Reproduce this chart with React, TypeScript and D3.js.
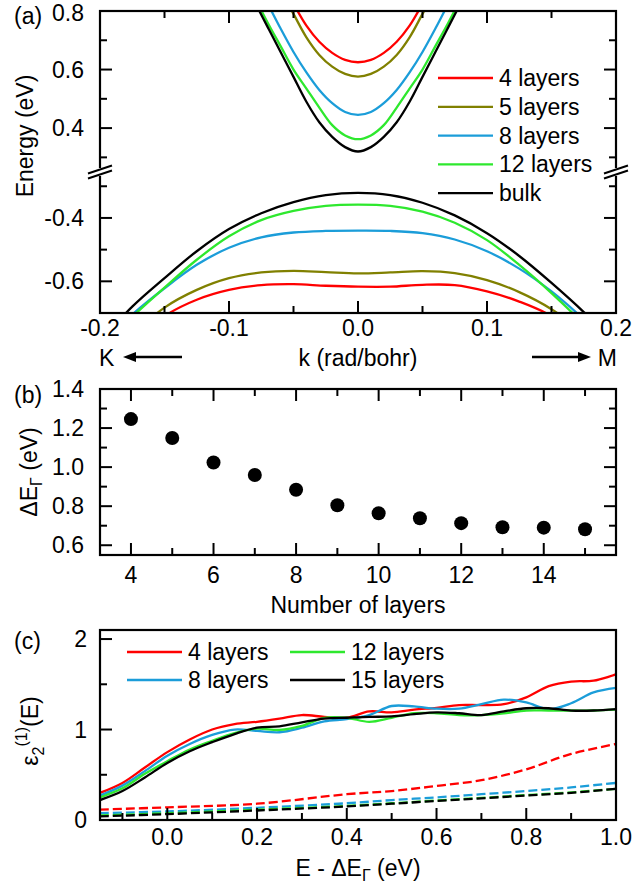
import React from "react"
import * as d3 from "d3"

const FONT = "'Liberation Sans', Arial, Helvetica, sans-serif"
const FS = 23

// ---------- panel (a): band structure ----------
const cbK = [-0.08, -0.07, -0.06, -0.05, -0.04, -0.03, -0.02, -0.01, 0, 0.01, 0.02, 0.03, 0.04, 0.05, 0.06, 0.07, 0.08]
const cb4 = [1.09, 1.0, 0.91, 0.825, 0.75, 0.695, 0.657, 0.633, 0.625, 0.633, 0.657, 0.695, 0.75, 0.825, 0.91, 1.0, 1.09]
const cb5 = [1.05, 0.96, 0.87, 0.79, 0.71, 0.65, 0.61, 0.585, 0.576, 0.585, 0.61, 0.65, 0.71, 0.79, 0.87, 0.96, 1.05]
const cb8 = [0.91, 0.825, 0.74, 0.66, 0.59, 0.53, 0.485, 0.455, 0.445, 0.455, 0.485, 0.53, 0.59, 0.66, 0.74, 0.825, 0.91]
const cb12 = [0.845, 0.76, 0.68, 0.6, 0.535, 0.47, 0.41, 0.375, 0.362, 0.375, 0.41, 0.47, 0.535, 0.6, 0.68, 0.76, 0.845]
const cbBulk = [0.83, 0.745, 0.66, 0.575, 0.49, 0.42, 0.37, 0.335, 0.32, 0.335, 0.37, 0.42, 0.49, 0.575, 0.66, 0.745, 0.83]

const vbK = [-0.2, -0.175, -0.15, -0.125, -0.1, -0.075, -0.05, -0.025, 0, 0.025, 0.05, 0.075, 0.1, 0.125, 0.15, 0.175, 0.2]
const vb4 = [-0.92, -0.8, -0.71, -0.658, -0.627, -0.612, -0.609, -0.614, -0.617, -0.617, -0.611, -0.612, -0.632, -0.664, -0.71, -0.79, -0.9]
const vb5 = [-0.88, -0.77, -0.683, -0.627, -0.59, -0.572, -0.567, -0.571, -0.575, -0.572, -0.568, -0.574, -0.596, -0.634, -0.688, -0.765, -0.86]
const vb8 = [-0.8, -0.705, -0.622, -0.548, -0.494, -0.461, -0.446, -0.441, -0.44, -0.441, -0.448, -0.468, -0.505, -0.56, -0.632, -0.72, -0.82]
const vb12 = [-0.81, -0.712, -0.62, -0.532, -0.458, -0.407, -0.378, -0.362, -0.358, -0.362, -0.38, -0.415, -0.47, -0.548, -0.637, -0.735, -0.84]
const vbBulk = [-0.79, -0.68, -0.59, -0.505, -0.435, -0.385, -0.35, -0.328, -0.321, -0.328, -0.352, -0.392, -0.448, -0.52, -0.605, -0.697, -0.8]

const bandNames = ["4 layers", "5 layers", "8 layers", "12 layers", "bulk"]
const bandColors = ["#ff0000", "#808000", "#1b9dd9", "#2ee82e", "#000000"]
const cbSeries = [cb4, cb5, cb8, cb12, cbBulk]
const vbSeries = [vb4, vb5, vb8, vb12, vbBulk]

const aXMajor = [-0.2, -0.1, 0, 0.1, 0.2]
const aXMinor = [-0.15, -0.05, 0.05, 0.15]
const aXLabels = ["-0.2", "-0.1", "0.0", "0.1", "0.2"]
const aYUpMajor = [0.4, 0.6, 0.8]
const aYUpMinor = [0.3, 0.5, 0.7]
const aYLoMajor = [-0.6, -0.4]
const aYLoMinor = [-0.5, -0.3]

// ---------- panel (b): gap vs layers ----------
const layers = [4, 5, 6, 7, 8, 9, 10, 11, 12, 13, 14, 15]
const gapGamma = [1.246, 1.149, 1.024, 0.96, 0.884, 0.805, 0.764, 0.738, 0.713, 0.692, 0.69, 0.682]
const bXMajor = [4, 6, 8, 10, 12, 14]
const bXMinor = [5, 7, 9, 11, 13, 15]
const bYMajor = [0.6, 0.8, 1.0, 1.2, 1.4]
const bYMinor = [0.7, 0.9, 1.1, 1.3]

// ---------- panel (c): epsilon2 ----------
const eSolid = [-0.15, -0.1, -0.05, 0, 0.05, 0.1, 0.15, 0.2, 0.25, 0.3, 0.35, 0.4, 0.45, 0.5, 0.55, 0.6, 0.65, 0.7, 0.75, 0.8, 0.85, 0.9, 0.95, 1.0]
const eps4 = [0.3, 0.41, 0.58, 0.75, 0.89, 1.0, 1.06, 1.085, 1.12, 1.16, 1.14, 1.13, 1.2, 1.19, 1.22, 1.24, 1.27, 1.27, 1.28, 1.355, 1.48, 1.53, 1.54, 1.61]
const eps8 = [0.27, 0.38, 0.54, 0.71, 0.84, 0.94, 1.0, 0.985, 0.97, 1.02, 1.09, 1.115, 1.16, 1.26, 1.255, 1.23, 1.23, 1.28, 1.33, 1.3, 1.225, 1.29, 1.41, 1.46]
const eps12 = [0.25, 0.35, 0.51, 0.65, 0.78, 0.875, 0.96, 1.01, 0.995, 1.04, 1.13, 1.13, 1.085, 1.13, 1.18, 1.18, 1.16, 1.16, 1.18, 1.21, 1.21, 1.21, 1.21, 1.22]
const eps15 = [0.22, 0.32, 0.47, 0.63, 0.76, 0.86, 0.95, 1.02, 1.035, 1.08, 1.12, 1.13, 1.14, 1.145, 1.17, 1.19, 1.18, 1.16, 1.2, 1.235, 1.235, 1.21, 1.21, 1.225]

const eDash = [-0.15, 0, 0.2, 0.4, 0.5, 0.6, 0.7, 0.8, 0.9, 1.0]
const epsD4 = [0.115, 0.14, 0.18, 0.285, 0.32, 0.376, 0.44, 0.56, 0.73, 0.84]
const epsD8 = [0.075, 0.095, 0.135, 0.185, 0.22, 0.25, 0.285, 0.32, 0.36, 0.41]
const epsD12 = [0.05, 0.075, 0.115, 0.155, 0.185, 0.215, 0.245, 0.275, 0.305, 0.345]
const epsD15 = [0.04, 0.065, 0.105, 0.15, 0.18, 0.21, 0.24, 0.27, 0.3, 0.345]

const cNames = ["4 layers", "8 layers", "12 layers", "15 layers"]
const cColors = ["#ff0000", "#1b9dd9", "#2ee82e", "#000000"]
const cSolid = [eps4, eps8, eps12, eps15]
const cDash = [epsD4, epsD8, epsD12, epsD15]
const cXMajor = [0, 0.2, 0.4, 0.6, 0.8, 1.0]
const cXMinor = [-0.1, 0.1, 0.3, 0.5, 0.7, 0.9]
const cYMajor = [0, 1, 2]
const cYMinor = [0.5, 1.5]

const L = 100
const R = 616
const MAJ = 12
const MIN = 7

const txt = { fontFamily: FONT, fontSize: FS, fill: "#000" } as const

export default function App() {
  // scales
  const ax = d3.scaleLinear().domain([-0.2, 0.2]).range([L, R])
  const ayUp = d3.scaleLinear().domain([0.25, 0.8]).range([172, 11])
  const ayLo = d3.scaleLinear().domain([-0.7, -0.255]).range([313, 172])
  const aTop = 11, aBreak = 172, aBot = 313

  const bx = d3.scaleLinear().domain([3.25, 15.75]).range([L, R])
  const by = d3.scaleLinear().domain([0.55, 1.4]).range([555, 389])
  const bTop = 389, bBot = 555

  const cx = d3.scaleLinear().domain([-0.15, 1.0]).range([L, R])
  const cy = d3.scaleLinear().domain([0, 2.1]).range([820, 630])
  const cTop = 630, cBot = 820

  const curve = d3.curveCatmullRom.alpha(0.5)
  const lineOf = (xs: number[], ys: number[], sx: any, sy: any) =>
    d3.line<number>().x((_, i) => sx(xs[i])).y((v) => sy(v)).curve(curve)(ys) || ""

  const tk = (key: string, x1: number, y1: number, x2: number, y2: number) => (
    <line key={key} x1={x1} y1={y1} x2={x2} y2={y2} stroke="#000" strokeWidth={2} />
  )

  const breakMark = (x0: number, k: string) => (
    <g key={k}>
      <rect x={x0 - 3} y={aBreak - 4} width={6} height={8} fill="#fff" />
      <line x1={x0 - 12} y1={aBreak + 1.5} x2={x0 + 12} y2={aBreak - 6.5} stroke="#000" strokeWidth={2} />
      <line x1={x0 - 12} y1={aBreak + 6.5} x2={x0 + 12} y2={aBreak - 1.5} stroke="#000" strokeWidth={2} />
    </g>
  )

  return (
    <div style={{ position: "absolute", left: 0, top: 0 }}>
      <svg width={633} height={892} style={{ display: "block", background: "#fff" }}>
        <defs>
          <clipPath id="clipUp"><rect x={L} y={aTop} width={R - L} height={aBreak - aTop} /></clipPath>
          <clipPath id="clipLo"><rect x={L} y={aBreak} width={R - L} height={aBot - aBreak} /></clipPath>
          <clipPath id="clipC"><rect x={L} y={cTop} width={R - L} height={cBot - cTop} /></clipPath>
        </defs>

        {/* ===== panel (a) ===== */}
        <g clipPath="url(#clipUp)">
          {cbSeries.map((s, i) => (
            <path key={"cb" + i} d={lineOf(cbK, s, ax, ayUp)} fill="none" stroke={bandColors[i]} strokeWidth={2.3} />
          ))}
        </g>
        <g clipPath="url(#clipLo)">
          {vbSeries.map((s, i) => (
            <path key={"vb" + i} d={lineOf(vbK, s, ax, ayLo)} fill="none" stroke={bandColors[i]} strokeWidth={2.3} />
          ))}
        </g>
        <rect x={L} y={aTop} width={R - L} height={aBot - aTop} fill="none" stroke="#000" strokeWidth={2.2} />
        {aXMajor.map((v, i) => [
          tk("axb" + i, ax(v), aBot, ax(v), aBot - MAJ),
          tk("axt" + i, ax(v), aTop, ax(v), aTop + MAJ),
        ])}
        {aXMinor.map((v, i) => [
          tk("axbm" + i, ax(v), aBot, ax(v), aBot - MIN),
          tk("axtm" + i, ax(v), aTop, ax(v), aTop + MIN),
        ])}
        {aYUpMajor.map((v, i) => [
          tk("auL" + i, L, ayUp(v), L + MAJ, ayUp(v)),
          tk("auR" + i, R, ayUp(v), R - MAJ, ayUp(v)),
        ])}
        {aYUpMinor.map((v, i) => [
          tk("aumL" + i, L, ayUp(v), L + MIN, ayUp(v)),
          tk("aumR" + i, R, ayUp(v), R - MIN, ayUp(v)),
        ])}
        {aYLoMajor.map((v, i) => [
          tk("alL" + i, L, ayLo(v), L + MAJ, ayLo(v)),
          tk("alR" + i, R, ayLo(v), R - MAJ, ayLo(v)),
        ])}
        {aYLoMinor.map((v, i) => [
          tk("almL" + i, L, ayLo(v), L + MIN, ayLo(v)),
          tk("almR" + i, R, ayLo(v), R - MIN, ayLo(v)),
        ])}
        {breakMark(L, "bl")}
        {breakMark(R, "br")}
        {aXMajor.map((v, i) => (
          <text key={"axl" + i} x={ax(v)} y={336} textAnchor="middle" {...txt}>{aXLabels[i]}</text>
        ))}
        {aYUpMajor.map((v, i) => (
          <text key={"ayu" + i} x={84} y={Math.max(ayUp(v) + 8, 21)} textAnchor="end" {...txt}>{v.toFixed(1)}</text>
        ))}
        {aYLoMajor.map((v, i) => (
          <text key={"ayl" + i} x={84} y={ayLo(v) + 8} textAnchor="end" {...txt}>{v.toFixed(1)}</text>
        ))}
        <text x={14} y={24} {...txt}>(a)</text>
        <text transform="translate(33,136) rotate(-90)" textAnchor="middle" {...txt}>Energy (eV)</text>
        {/* legend (a) */}
        {bandNames.map((n, i) => (
          <g key={"lga" + i}>
            <line x1={438} x2={493} y1={78 + i * 28.8} y2={78 + i * 28.8} stroke={bandColors[i]} strokeWidth={2.3} />
            <text x={499} y={78 + i * 28.8 + 8} {...txt}>{n}</text>
          </g>
        ))}
        {/* K / M direction labels */}
        <text x={99} y={366} {...txt}>K</text>
        <line x1={182} y1={357} x2={132} y2={357} stroke="#000" strokeWidth={2.5} />
        <polygon points="123,357 136,352 136,362" fill="#000" />
        <text x={358} y={366} textAnchor="middle" {...txt}>k (rad/bohr)</text>
        <line x1={532} y1={357} x2={582} y2={357} stroke="#000" strokeWidth={2.5} />
        <polygon points="591,357 578,352 578,362" fill="#000" />
        <text x={617} y={366} textAnchor="end" {...txt}>M</text>

        {/* ===== panel (b) ===== */}
        <rect x={L} y={bTop} width={R - L} height={bBot - bTop} fill="none" stroke="#000" strokeWidth={2.2} />
        {bXMajor.map((v, i) => [
          tk("bxb" + i, bx(v), bBot, bx(v), bBot - MAJ),
          tk("bxt" + i, bx(v), bTop, bx(v), bTop + MAJ),
        ])}
        {bXMinor.map((v, i) => [
          tk("bxbm" + i, bx(v), bBot, bx(v), bBot - MIN),
          tk("bxtm" + i, bx(v), bTop, bx(v), bTop + MIN),
        ])}
        {bYMajor.map((v, i) => [
          tk("byL" + i, L, by(v), L + MAJ, by(v)),
          tk("byR" + i, R, by(v), R - MAJ, by(v)),
        ])}
        {bYMinor.map((v, i) => [
          tk("bymL" + i, L, by(v), L + MIN, by(v)),
          tk("bymR" + i, R, by(v), R - MIN, by(v)),
        ])}
        {layers.map((n, i) => (
          <circle key={"dot" + i} cx={bx(n)} cy={by(gapGamma[i])} r={7} fill="#000" />
        ))}
        {bXMajor.map((v, i) => (
          <text key={"bxl" + i} x={bx(v)} y={583} textAnchor="middle" {...txt}>{v}</text>
        ))}
        {bYMajor.map((v, i) => (
          <text key={"byl" + i} x={84} y={by(v) + 8} textAnchor="end" {...txt}>{v.toFixed(1)}</text>
        ))}
        <text x={14} y={403} {...txt}>(b)</text>
        <text x={358} y={613} textAnchor="middle" {...txt}>Number of layers</text>
        <text transform="translate(37,472) rotate(-90)" textAnchor="middle" {...txt}>
          ΔE<tspan dy={5} fontSize={16}>Γ</tspan><tspan dy={-5}> (eV)</tspan>
        </text>

        {/* ===== panel (c) ===== */}
        <g clipPath="url(#clipC)">
          {cDash.map((s, i) => (
            <path key={"cd" + i} d={lineOf(eDash, s, cx, cy)} fill="none" stroke={cColors[i]} strokeWidth={2.3} strokeDasharray="9,4" />
          ))}
          {cSolid.map((s, i) => (
            <path key={"cs" + i} d={lineOf(eSolid, s, cx, cy)} fill="none" stroke={cColors[i]} strokeWidth={2.3} />
          ))}
        </g>
        <rect x={L} y={cTop} width={R - L} height={cBot - cTop} fill="none" stroke="#000" strokeWidth={2.2} />
        {cXMajor.map((v, i) => tk("cxb" + i, cx(v), cBot, cx(v), cBot - MAJ))}
        {cXMinor.map((v, i) => tk("cxbm" + i, cx(v), cBot, cx(v), cBot - MIN))}
        {cYMajor.map((v, i) => tk("cyL" + i, L, cy(v), L + MAJ, cy(v)))}
        {cYMinor.map((v, i) => tk("cymL" + i, L, cy(v), L + MIN, cy(v)))}
        {cXMajor.map((v, i) => (
          <text key={"cxl" + i} x={cx(v)} y={845} textAnchor="middle" {...txt}>{v.toFixed(1)}</text>
        ))}
        {cYMajor.map((v, i) => (
          <text key={"cyl" + i} x={87} y={cy(v) + 8} textAnchor="end" {...txt}>{v}</text>
        ))}
        <text x={14} y={649} {...txt}>(c)</text>
        <text x={358} y={876} textAnchor="middle" {...txt}>
          E - ΔE<tspan dy={5} fontSize={16}>Γ</tspan><tspan dy={-5}> (eV)</tspan>
        </text>
        <text transform="translate(38,731) rotate(-90)" textAnchor="middle" {...txt}>
          ε<tspan dy={6} fontSize={16}>2</tspan><tspan dy={-17} fontSize={16}>(1)</tspan><tspan dy={11}>(E)</tspan>
        </text>
        {/* legend (c) */}
        {cNames.map((n, i) => {
          const col = i === 0 || i === 1 ? 0 : 1
          const row = i === 0 || i === 2 ? 0 : 1
          const x0 = col === 0 ? 127 : 290
          const y0 = 652 + row * 28
          return (
            <g key={"lgc" + i}>
              <line x1={x0} x2={x0 + 55} y1={y0} y2={y0} stroke={cColors[i]} strokeWidth={2.3} />
              <text x={x0 + 61} y={y0 + 8} {...txt}>{n}</text>
            </g>
          )
        })}
      </svg>
    </div>
  )
}
